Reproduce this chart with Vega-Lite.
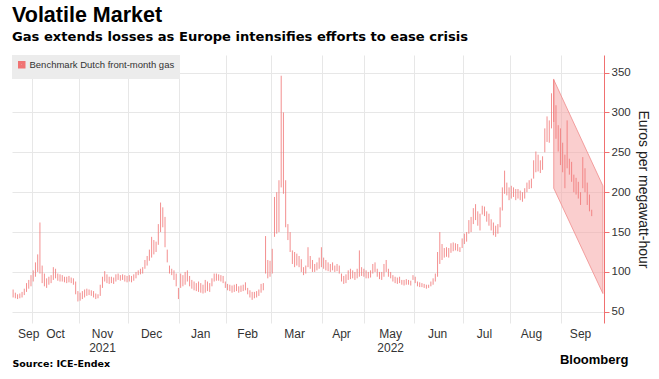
{
  "$schema": "https://vega.github.io/schema/vega-lite/v6.json",
  "width": 592,
  "height": 268,
  "padding": {"left": 12, "top": 5, "right": 3, "bottom": 5},
  "background": "white",
  "title": {
    "text": "Volatile Market",
    "subtitle": "Gas extends losses as Europe intensifies efforts to ease crisis",
    "anchor": "start",
    "font": "Liberation Sans",
    "fontSize": 21.5,
    "fontWeight": "bold",
    "color": "#000000",
    "subtitleFont": "DejaVu Sans",
    "subtitleFontSize": 13.1,
    "subtitleFontWeight": "bold",
    "subtitleColor": "#000000",
    "subtitlePadding": 4,
    "offset": 11
  },
  "datasets": {
    "channel": [
      {"d": "2022-08-26", "top": 341, "bot": 205},
      {"d": "2022-09-27", "top": 208, "bot": 73}
    ],
    "gas": [
      {"d":"2021-09-20","l":68,"h":78,"c":72},
      {"d":"2021-09-21","l":67,"h":74,"c":70},
      {"d":"2021-09-22","l":66,"h":72,"c":69},
      {"d":"2021-09-23","l":67,"h":73,"c":70},
      {"d":"2021-09-24","l":68,"h":75,"c":73},
      {"d":"2021-09-27","l":71,"h":79,"c":77},
      {"d":"2021-09-28","l":75,"h":86,"c":83},
      {"d":"2021-09-29","l":79,"h":90,"c":86},
      {"d":"2021-09-30","l":82,"h":96,"c":92},
      {"d":"2021-10-01","l":88,"h":102,"c":96},
      {"d":"2021-10-04","l":94,"h":112,"c":106},
      {"d":"2021-10-05","l":100,"h":122,"c":116},
      {"d":"2021-10-06","l":98,"h":162,"c":118},
      {"d":"2021-10-07","l":86,"h":108,"c":95},
      {"d":"2021-10-08","l":82,"h":98,"c":88},
      {"d":"2021-10-11","l":80,"h":92,"c":86},
      {"d":"2021-10-12","l":84,"h":94,"c":88},
      {"d":"2021-10-13","l":86,"h":96,"c":90},
      {"d":"2021-10-14","l":90,"h":106,"c":102},
      {"d":"2021-10-15","l":92,"h":104,"c":96},
      {"d":"2021-10-18","l":89,"h":98,"c":93},
      {"d":"2021-10-19","l":88,"h":97,"c":94},
      {"d":"2021-10-20","l":88,"h":96,"c":92},
      {"d":"2021-10-21","l":87,"h":94,"c":91},
      {"d":"2021-10-22","l":86,"h":94,"c":90},
      {"d":"2021-10-25","l":87,"h":95,"c":91},
      {"d":"2021-10-26","l":86,"h":93,"c":89},
      {"d":"2021-10-27","l":84,"h":92,"c":86},
      {"d":"2021-10-28","l":72,"h":88,"c":76},
      {"d":"2021-10-29","l":63,"h":76,"c":68},
      {"d":"2021-11-01","l":64,"h":74,"c":70},
      {"d":"2021-11-02","l":66,"h":76,"c":72},
      {"d":"2021-11-03","l":68,"h":78,"c":75},
      {"d":"2021-11-04","l":70,"h":79,"c":76},
      {"d":"2021-11-05","l":71,"h":78,"c":74},
      {"d":"2021-11-08","l":70,"h":77,"c":73},
      {"d":"2021-11-09","l":68,"h":76,"c":70},
      {"d":"2021-11-10","l":66,"h":73,"c":68},
      {"d":"2021-11-11","l":67,"h":72,"c":70},
      {"d":"2021-11-12","l":70,"h":84,"c":82},
      {"d":"2021-11-15","l":80,"h":94,"c":90},
      {"d":"2021-11-16","l":88,"h":101,"c":95},
      {"d":"2021-11-17","l":86,"h":97,"c":90},
      {"d":"2021-11-18","l":85,"h":94,"c":89},
      {"d":"2021-11-19","l":86,"h":94,"c":91},
      {"d":"2021-11-22","l":85,"h":93,"c":89},
      {"d":"2021-11-23","l":88,"h":97,"c":94},
      {"d":"2021-11-24","l":90,"h":98,"c":93},
      {"d":"2021-11-25","l":89,"h":96,"c":94},
      {"d":"2021-11-26","l":90,"h":97,"c":93},
      {"d":"2021-11-29","l":88,"h":96,"c":92},
      {"d":"2021-11-30","l":87,"h":95,"c":91},
      {"d":"2021-12-01","l":88,"h":96,"c":92},
      {"d":"2021-12-02","l":87,"h":95,"c":90},
      {"d":"2021-12-03","l":89,"h":97,"c":94},
      {"d":"2021-12-06","l":92,"h":100,"c":98},
      {"d":"2021-12-07","l":96,"h":102,"c":99},
      {"d":"2021-12-08","l":97,"h":104,"c":101},
      {"d":"2021-12-09","l":98,"h":106,"c":104},
      {"d":"2021-12-10","l":104,"h":115,"c":112},
      {"d":"2021-12-13","l":108,"h":120,"c":118},
      {"d":"2021-12-14","l":114,"h":128,"c":124},
      {"d":"2021-12-15","l":118,"h":144,"c":126},
      {"d":"2021-12-16","l":122,"h":140,"c":128},
      {"d":"2021-12-17","l":125,"h":138,"c":134},
      {"d":"2021-12-20","l":134,"h":160,"c":155},
      {"d":"2021-12-21","l":150,"h":187,"c":178},
      {"d":"2021-12-22","l":156,"h":181,"c":162},
      {"d":"2021-12-23","l":131,"h":169,"c":135},
      {"d":"2021-12-24","l":112,"h":128,"c":118},
      {"d":"2021-12-27","l":98,"h":108,"c":102},
      {"d":"2021-12-28","l":96,"h":104,"c":100},
      {"d":"2021-12-29","l":90,"h":102,"c":94},
      {"d":"2021-12-30","l":82,"h":98,"c":86},
      {"d":"2021-12-31","l":66,"h":80,"c":72},
      {"d":"2022-01-03","l":80,"h":98,"c":90},
      {"d":"2022-01-04","l":82,"h":96,"c":86},
      {"d":"2022-01-05","l":84,"h":100,"c":96},
      {"d":"2022-01-06","l":88,"h":102,"c":92},
      {"d":"2022-01-07","l":82,"h":95,"c":86},
      {"d":"2022-01-10","l":79,"h":90,"c":82},
      {"d":"2022-01-11","l":77,"h":88,"c":80},
      {"d":"2022-01-12","l":76,"h":86,"c":80},
      {"d":"2022-01-13","l":75,"h":88,"c":80},
      {"d":"2022-01-14","l":74,"h":86,"c":78},
      {"d":"2022-01-17","l":73,"h":84,"c":77},
      {"d":"2022-01-18","l":74,"h":90,"c":86},
      {"d":"2022-01-19","l":76,"h":88,"c":80},
      {"d":"2022-01-20","l":75,"h":86,"c":82},
      {"d":"2022-01-21","l":82,"h":92,"c":88},
      {"d":"2022-01-24","l":88,"h":98,"c":94},
      {"d":"2022-01-25","l":89,"h":98,"c":95},
      {"d":"2022-01-26","l":89,"h":97,"c":92},
      {"d":"2022-01-27","l":88,"h":96,"c":92},
      {"d":"2022-01-28","l":86,"h":95,"c":90},
      {"d":"2022-01-31","l":80,"h":88,"c":83},
      {"d":"2022-02-01","l":77,"h":85,"c":80},
      {"d":"2022-02-02","l":76,"h":84,"c":80},
      {"d":"2022-02-03","l":74,"h":83,"c":78},
      {"d":"2022-02-04","l":75,"h":84,"c":80},
      {"d":"2022-02-07","l":76,"h":85,"c":79},
      {"d":"2022-02-08","l":74,"h":82,"c":77},
      {"d":"2022-02-09","l":75,"h":83,"c":79},
      {"d":"2022-02-10","l":76,"h":84,"c":80},
      {"d":"2022-02-11","l":77,"h":87,"c":82},
      {"d":"2022-02-14","l":72,"h":80,"c":75},
      {"d":"2022-02-15","l":68,"h":77,"c":71},
      {"d":"2022-02-16","l":65,"h":75,"c":70},
      {"d":"2022-02-17","l":67,"h":75,"c":71},
      {"d":"2022-02-18","l":68,"h":76,"c":72},
      {"d":"2022-02-21","l":70,"h":78,"c":74},
      {"d":"2022-02-22","l":74,"h":85,"c":80},
      {"d":"2022-02-23","l":77,"h":86,"c":82},
      {"d":"2022-02-24","l":98,"h":145,"c":110},
      {"d":"2022-02-25","l":92,"h":115,"c":100},
      {"d":"2022-02-28","l":94,"h":114,"c":104},
      {"d":"2022-03-01","l":98,"h":129,"c":125},
      {"d":"2022-03-02","l":144,"h":194,"c":190},
      {"d":"2022-03-03","l":148,"h":200,"c":165},
      {"d":"2022-03-04","l":150,"h":215,"c":195},
      {"d":"2022-03-07","l":206,"h":346,"c":230},
      {"d":"2022-03-08","l":198,"h":300,"c":215},
      {"d":"2022-03-09","l":156,"h":215,"c":160},
      {"d":"2022-03-10","l":140,"h":160,"c":145},
      {"d":"2022-03-11","l":125,"h":150,"c":130},
      {"d":"2022-03-14","l":110,"h":127,"c":118},
      {"d":"2022-03-15","l":106,"h":125,"c":112},
      {"d":"2022-03-16","l":108,"h":123,"c":115},
      {"d":"2022-03-17","l":106,"h":120,"c":110},
      {"d":"2022-03-18","l":100,"h":116,"c":104},
      {"d":"2022-03-21","l":96,"h":106,"c":100},
      {"d":"2022-03-22","l":98,"h":108,"c":104},
      {"d":"2022-03-23","l":106,"h":131,"c":122},
      {"d":"2022-03-24","l":104,"h":120,"c":110},
      {"d":"2022-03-25","l":100,"h":115,"c":106},
      {"d":"2022-03-28","l":100,"h":110,"c":104},
      {"d":"2022-03-29","l":102,"h":112,"c":106},
      {"d":"2022-03-30","l":104,"h":118,"c":114},
      {"d":"2022-03-31","l":106,"h":131,"c":118},
      {"d":"2022-04-01","l":104,"h":118,"c":110},
      {"d":"2022-04-04","l":102,"h":115,"c":108},
      {"d":"2022-04-05","l":101,"h":112,"c":106},
      {"d":"2022-04-06","l":100,"h":110,"c":104},
      {"d":"2022-04-07","l":102,"h":112,"c":106},
      {"d":"2022-04-08","l":100,"h":108,"c":103},
      {"d":"2022-04-11","l":101,"h":110,"c":106},
      {"d":"2022-04-12","l":98,"h":108,"c":100},
      {"d":"2022-04-13","l":88,"h":98,"c":92},
      {"d":"2022-04-14","l":85,"h":95,"c":90},
      {"d":"2022-04-19","l":86,"h":97,"c":92},
      {"d":"2022-04-20","l":90,"h":102,"c":96},
      {"d":"2022-04-21","l":91,"h":104,"c":98},
      {"d":"2022-04-22","l":92,"h":102,"c":96},
      {"d":"2022-04-25","l":90,"h":100,"c":95},
      {"d":"2022-04-26","l":92,"h":104,"c":100},
      {"d":"2022-04-27","l":94,"h":127,"c":104},
      {"d":"2022-04-28","l":95,"h":106,"c":98},
      {"d":"2022-04-29","l":94,"h":104,"c":98},
      {"d":"2022-05-02","l":92,"h":102,"c":96},
      {"d":"2022-05-03","l":92,"h":100,"c":95},
      {"d":"2022-05-04","l":93,"h":102,"c":97},
      {"d":"2022-05-05","l":98,"h":110,"c":106},
      {"d":"2022-05-06","l":100,"h":112,"c":104},
      {"d":"2022-05-09","l":94,"h":104,"c":97},
      {"d":"2022-05-10","l":91,"h":100,"c":94},
      {"d":"2022-05-11","l":90,"h":100,"c":94},
      {"d":"2022-05-12","l":94,"h":110,"c":104},
      {"d":"2022-05-13","l":100,"h":115,"c":106},
      {"d":"2022-05-16","l":94,"h":104,"c":98},
      {"d":"2022-05-17","l":92,"h":100,"c":95},
      {"d":"2022-05-18","l":88,"h":96,"c":91},
      {"d":"2022-05-19","l":86,"h":94,"c":90},
      {"d":"2022-05-20","l":85,"h":93,"c":88},
      {"d":"2022-05-23","l":86,"h":94,"c":90},
      {"d":"2022-05-24","l":84,"h":90,"c":87},
      {"d":"2022-05-25","l":83,"h":90,"c":86},
      {"d":"2022-05-26","l":84,"h":91,"c":88},
      {"d":"2022-05-27","l":84,"h":90,"c":86},
      {"d":"2022-05-30","l":83,"h":89,"c":85},
      {"d":"2022-05-31","l":90,"h":96,"c":92},
      {"d":"2022-06-01","l":86,"h":94,"c":89},
      {"d":"2022-06-02","l":82,"h":88,"c":85},
      {"d":"2022-06-03","l":81,"h":87,"c":84},
      {"d":"2022-06-06","l":81,"h":86,"c":83},
      {"d":"2022-06-07","l":80,"h":85,"c":82},
      {"d":"2022-06-08","l":79,"h":84,"c":81},
      {"d":"2022-06-09","l":80,"h":84,"c":82},
      {"d":"2022-06-10","l":82,"h":88,"c":86},
      {"d":"2022-06-13","l":84,"h":92,"c":90},
      {"d":"2022-06-14","l":88,"h":98,"c":94},
      {"d":"2022-06-15","l":94,"h":125,"c":120},
      {"d":"2022-06-16","l":110,"h":150,"c":128},
      {"d":"2022-06-17","l":115,"h":135,"c":122},
      {"d":"2022-06-20","l":118,"h":130,"c":125},
      {"d":"2022-06-21","l":119,"h":131,"c":124},
      {"d":"2022-06-22","l":118,"h":130,"c":126},
      {"d":"2022-06-23","l":124,"h":136,"c":130},
      {"d":"2022-06-24","l":126,"h":137,"c":131},
      {"d":"2022-06-27","l":127,"h":136,"c":132},
      {"d":"2022-06-28","l":126,"h":135,"c":130},
      {"d":"2022-06-29","l":125,"h":131,"c":128},
      {"d":"2022-06-30","l":130,"h":142,"c":140},
      {"d":"2022-07-01","l":135,"h":148,"c":145},
      {"d":"2022-07-04","l":138,"h":150,"c":146},
      {"d":"2022-07-05","l":148,"h":165,"c":160},
      {"d":"2022-07-06","l":150,"h":169,"c":163},
      {"d":"2022-07-07","l":160,"h":180,"c":172},
      {"d":"2022-07-08","l":165,"h":185,"c":175},
      {"d":"2022-07-11","l":158,"h":176,"c":165},
      {"d":"2022-07-12","l":152,"h":173,"c":168},
      {"d":"2022-07-13","l":172,"h":183,"c":178},
      {"d":"2022-07-14","l":170,"h":182,"c":175},
      {"d":"2022-07-15","l":163,"h":176,"c":168},
      {"d":"2022-07-18","l":158,"h":173,"c":162},
      {"d":"2022-07-19","l":152,"h":166,"c":158},
      {"d":"2022-07-20","l":146,"h":162,"c":152},
      {"d":"2022-07-21","l":144,"h":158,"c":150},
      {"d":"2022-07-22","l":148,"h":160,"c":156},
      {"d":"2022-07-25","l":156,"h":181,"c":175},
      {"d":"2022-07-26","l":177,"h":206,"c":200},
      {"d":"2022-07-27","l":198,"h":227,"c":205},
      {"d":"2022-07-28","l":196,"h":212,"c":202},
      {"d":"2022-07-29","l":190,"h":206,"c":196},
      {"d":"2022-08-01","l":192,"h":208,"c":200},
      {"d":"2022-08-02","l":194,"h":206,"c":198},
      {"d":"2022-08-03","l":190,"h":204,"c":196},
      {"d":"2022-08-04","l":192,"h":204,"c":198},
      {"d":"2022-08-05","l":190,"h":202,"c":196},
      {"d":"2022-08-08","l":188,"h":200,"c":194},
      {"d":"2022-08-09","l":192,"h":205,"c":200},
      {"d":"2022-08-10","l":200,"h":212,"c":208},
      {"d":"2022-08-11","l":204,"h":215,"c":210},
      {"d":"2022-08-12","l":205,"h":217,"c":214},
      {"d":"2022-08-15","l":217,"h":240,"c":232},
      {"d":"2022-08-16","l":225,"h":251,"c":238},
      {"d":"2022-08-17","l":226,"h":247,"c":236},
      {"d":"2022-08-18","l":224,"h":240,"c":232},
      {"d":"2022-08-19","l":228,"h":245,"c":240},
      {"d":"2022-08-22","l":250,"h":280,"c":276},
      {"d":"2022-08-23","l":263,"h":295,"c":270},
      {"d":"2022-08-24","l":262,"h":290,"c":285},
      {"d":"2022-08-25","l":280,"h":324,"c":318},
      {"d":"2022-08-26","l":288,"h":342,"c":320},
      {"d":"2022-08-29","l":267,"h":309,"c":270},
      {"d":"2022-08-30","l":251,"h":284,"c":260},
      {"d":"2022-08-31","l":234,"h":280,"c":244},
      {"d":"2022-09-01","l":225,"h":262,"c":240},
      {"d":"2022-09-02","l":205,"h":247,"c":215},
      {"d":"2022-09-05","l":230,"h":290,"c":248},
      {"d":"2022-09-06","l":222,"h":242,"c":236},
      {"d":"2022-09-07","l":213,"h":238,"c":220},
      {"d":"2022-09-08","l":200,"h":222,"c":210},
      {"d":"2022-09-09","l":197,"h":218,"c":208},
      {"d":"2022-09-12","l":192,"h":213,"c":196},
      {"d":"2022-09-13","l":184,"h":200,"c":192},
      {"d":"2022-09-14","l":205,"h":244,"c":222},
      {"d":"2022-09-15","l":200,"h":230,"c":210},
      {"d":"2022-09-16","l":184,"h":212,"c":188},
      {"d":"2022-09-19","l":176,"h":197,"c":180},
      {"d":"2022-09-20","l":170,"h":178,"c":172}
    ]
  },
  "layer": [
    {
      "data": {"name": "channel"},
      "mark": {"type": "area", "fill": "#f6a5a5", "fillOpacity": 0.55, "stroke": "#f08c8c", "strokeWidth": 1, "strokeOpacity": 0.8},
      "encoding": {
        "x": {
          "field": "d", "type": "ordinal",
          "scale": {"type": "band", "paddingInner": 0, "paddingOuter": 0, "domain": {"unionWith": ["2022-09-21", "2022-09-22", "2022-09-23", "2022-09-26", "2022-09-27"]}},
          "axis": {
            "orient": "bottom",
            "values": ["2021-09-29", "2021-10-15", "2021-11-15", "2021-12-15", "2022-01-14", "2022-02-14", "2022-03-15", "2022-04-13", "2022-05-17", "2022-06-15", "2022-07-14", "2022-08-12", "2022-09-13"],
            "bandPosition": 0.5,
            "grid": false, "ticks": false, "domain": false,
            "labelExpr": "datum.value == '2021-11-15' ? ['Nov', '2021'] : datum.value == '2022-05-17' ? ['May', '2022'] : utcFormat(toDate(datum.value), '%b')",
            "labelAngle": 0, "labelOverlap": false, "labelFlush": false, "labelBound": false,
            "labelFont": "Liberation Sans", "labelFontSize": 12, "labelColor": "#333333", "labelPadding": 5, "labelLineHeight": 14, "labelBaseline": "top",
            "title": "Source: ICE-Endex", "titleAnchor": "start", "titleAlign": "left", "titleFont": "DejaVu Sans", "titleFontSize": 9.5, "titleFontWeight": "bold", "titleColor": "#000000", "titlePadding": 5
          }
        },
        "y": {
          "field": "top", "type": "quantitative",
          "scale": {"domain": [36, 372], "nice": false, "zero": false},
          "axis": {
            "orient": "right", "values": [50, 100, 150, 200, 250, 300, 350],
            "grid": true, "gridColor": "#e7e7e7",
            "domainColor": "#f07070", "tickColor": "#f07070", "tickSize": 5,
            "labelFont": "Liberation Sans", "labelFontSize": 11.5, "labelColor": "#333333", "labelPadding": 2,
            "title": "Euros per megawatt-hour", "titleFont": "Liberation Sans", "titleFontSize": 14, "titleFontWeight": "normal", "titleColor": "#222222", "titlePadding": 5
          }
        },
        "y2": {"field": "bot"}
      }
    },
    {
      "data": {"name": "gas"},
      "mark": {"type": "rule", "strokeWidth": 1, "opacity": 0.8},
      "encoding": {
        "x": {
          "field": "d", "type": "ordinal",
          "scale": {"type": "band", "paddingInner": 0, "paddingOuter": 0, "domain": {"unionWith": ["2022-09-21", "2022-09-22", "2022-09-23", "2022-09-26", "2022-09-27"]}},
          "axis": {
            "orient": "bottom",
            "values": ["2021-10-01", "2021-11-01", "2021-12-01", "2022-01-03", "2022-02-01", "2022-03-01", "2022-04-01", "2022-05-02", "2022-06-01", "2022-07-01", "2022-08-01", "2022-09-01"],
            "bandPosition": 0,
            "grid": true, "gridColor": "#e7e7e7", "gridWidth": 1,
            "labels": false, "ticks": false, "domain": false,
            "title": "Bloomberg", "titleAnchor": "end", "titleAlign": "right", "titleBaseline": "alphabetic",
            "titleX": 616, "titleY": 40,
            "titleFont": "Liberation Sans", "titleFontSize": 13, "titleFontWeight": "bold", "titleColor": "#000000"
          }
        },
        "y": {
          "field": "l", "type": "quantitative",
          "scale": {"domain": [36, 372], "nice": false, "zero": false},
          "axis": {
            "orient": "right", "values": [50, 100, 150, 200, 250, 300, 350],
            "grid": true, "gridColor": "#e7e7e7",
            "domainColor": "#f07070", "tickColor": "#f07070", "tickSize": 5,
            "labelFont": "Liberation Sans", "labelFontSize": 11.5, "labelColor": "#333333", "labelPadding": 2,
            "title": "Euros per megawatt-hour", "titleFont": "Liberation Sans", "titleFontSize": 14, "titleFontWeight": "normal", "titleColor": "#222222", "titlePadding": 5
          }
        },
        "y2": {"field": "h"},
        "color": {
          "datum": "Benchmark Dutch front-month gas", "type": "nominal",
          "scale": {"range": ["#f07373"]},
          "legend": {
            "orient": "top-left", "offset": 0, "title": null, "padding": 5,
            "fillColor": "#ececec", "symbolType": "square", "symbolSize": 16, "symbolStrokeWidth": 3.5, "symbolOpacity": 1,
            "labelFont": "Liberation Sans", "labelFontSize": 9.5, "labelColor": "#333333", "labelOffset": 3
          }
        }
      }
    }
  ],
  "resolve": {"axis": {"x": "independent"}},
  "config": {
    "view": {"stroke": null},
    "font": "Liberation Sans"
  }
}
